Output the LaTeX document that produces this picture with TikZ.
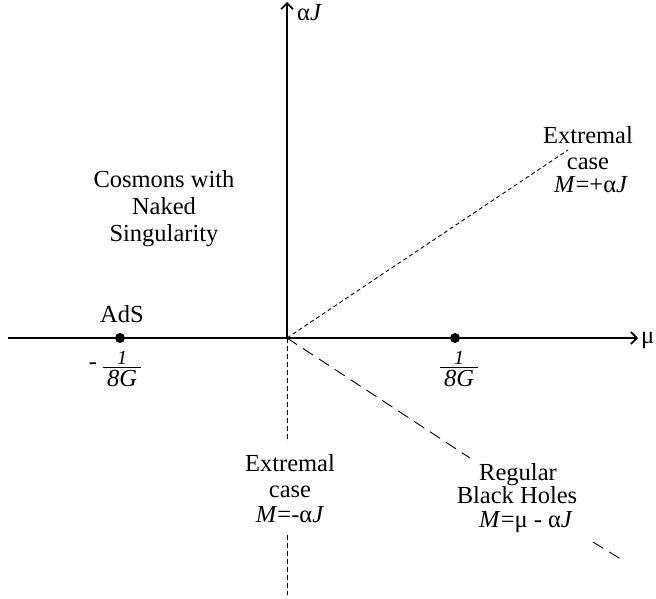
\documentclass[tikz,border=0pt]{standalone}
\usepackage{fontspec}
\setmainfont{Liberation Serif}
\usetikzlibrary{arrows.meta}
\begin{document}
\begin{tikzpicture}[x=1pt,y=-1pt,
  font=\fontsize{24.5}{27}\selectfont,
  lbl/.style={anchor=base, inner sep=0},
  axis/.style={line width=1.3pt, -{Straight Barb[length=6pt,width=12pt,line width=1.6pt]}},
  dot/.style={circle, fill=black, inner sep=0, minimum size=10pt},
  shortdash/.style={line width=0.9pt, dash pattern=on 4pt off 3pt},
  middash/.style={line width=0.9pt, dash pattern=on 5pt off 3pt},
  longdash/.style={line width=0.9pt, dash pattern=on 12pt off 7pt}]
\useasboundingbox (0,0) rectangle (656,599);
% axes
\coordinate (O) at (287,338);
\coordinate (xs) at (8,338);
\coordinate (xe) at (638,338);
\coordinate (ye) at (287,2);
\draw[axis] (xs) -- (xe);
\draw[axis] (O) -- (ye);
\node[lbl, anchor=base west] (mu) at (641,343) {μ};
\node[lbl, anchor=base west] (aJ) at (297,21) {α\textit{J}};
% points
\node[dot] (ads) at (120,338) {};
\node[dot] (pt) at (455,338) {};
\node[lbl] (adsl) at (122,322) {AdS};
% fractions
\node[lbl, font=\fontsize{20}{22}\selectfont] (n1) at (122,364) {\textit{1}};
\node[lbl] (d1) at (122,386) {\textit{8G}};
\draw[line width=0.8pt] ([xshift=-4pt,yshift=2pt]d1.north west) -- ([xshift=4pt,yshift=2pt]d1.north east);
\node[lbl] (minus) at (93,369) {-};
\node[lbl, font=\fontsize{20}{22}\selectfont] (n2) at (459,364) {\textit{1}};
\node[lbl] (d2) at (459,386) {\textit{8G}};
\draw[line width=0.8pt] ([xshift=-4pt,yshift=2pt]d2.north west) -- ([xshift=4pt,yshift=2pt]d2.north east);
% dashed lines
\coordinate (e1) at (568,150);
\draw[shortdash] (O) -- (e1);
\coordinate (v1) at (287,442);
\coordinate (v2) at (287,535);
\coordinate (v3) at (287,595);
\draw[middash] (O) -- (v1);
\draw[middash] (v2) -- (v3);
\coordinate (l1) at (470,458);
\coordinate (l2) at (593,542);
\coordinate (l3) at (624,561);
\draw[longdash] (O) -- (l1);
\draw[longdash] (l2) -- (l3);
% labels
\node[lbl] (c1) at (164,187) {Cosmons with};
\node[lbl] (c2) at (164,214) {Naked};
\node[lbl] (c3) at (164,241) {Singularity};
\node[lbl] (u1) at (588,143) {Extremal};
\node[lbl] (u2) at (588,169) {case};
\node[lbl] (u3) at (591,193) {\textit{M}=+α\textit{J}};
\node[lbl] (x1) at (290,471) {Extremal};
\node[lbl] (x2) at (290,497) {case};
\node[lbl] (x3) at (290,522) {\textit{M}=-α\textit{J}};
\node[lbl] (r1) at (518,480) {Regular};
\node[lbl] (r2) at (517,503) {Black Holes};
\node[lbl] (r3) at (526,527) {\textit{M}=μ - α\textit{J}};
\end{tikzpicture}
\end{document}
